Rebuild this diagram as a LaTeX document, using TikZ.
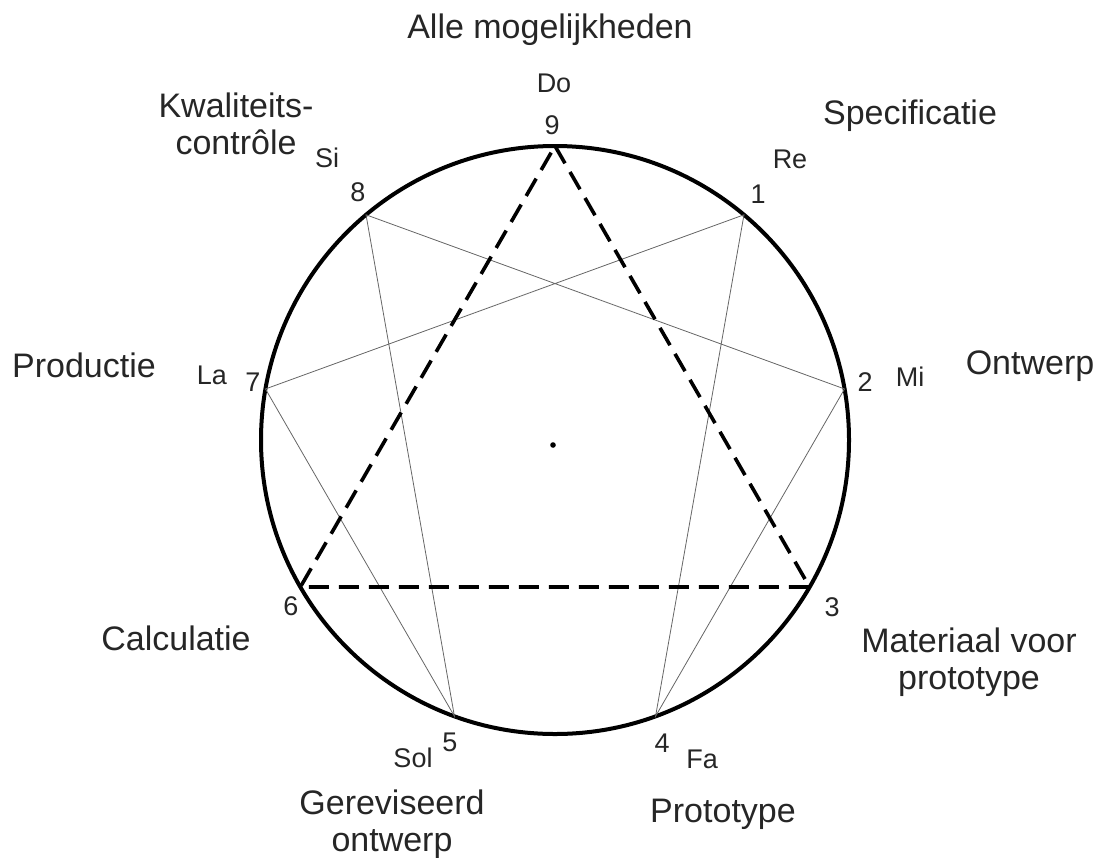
\documentclass[tikz,border=0pt]{standalone}
\usepackage{fontspec}
\setmainfont{Liberation Sans}
\begin{document}
\begin{tikzpicture}[x=1pt,y=-1pt,
  big/.style={font=\fontsize{34}{37}\selectfont, text=black!85, align=center, inner sep=0pt},
  small/.style={font=\fontsize{27}{30}\selectfont, text=black!85, inner sep=0pt},
  chord/.style={draw=black!60, line width=0.8pt},
  tri/.style={draw=black, line width=3.6pt, dash pattern=on 20pt off 10pt},
  ring/.style={draw=black, line width=4pt}]
\useasboundingbox (0,0) rectangle (1099,857);
\coordinate (c) at (555,440);
\foreach \k in {1,...,9}{
  \coordinate (p\k) at ({555+294*sin(40*\k)},{440-294*cos(40*\k)});
}
\draw[ring] (c) circle[radius=294];
\fill (553,445) circle[radius=2.8];
\draw[chord] (p1) -- (p4) -- (p2) -- (p8) -- (p5) -- (p7) -- cycle;
\draw[tri] (p9) -- (p3) -- (p6) -- cycle;
% numbers
\node[small] (n9) at (552,125) {9};
\node[small] (n1) at (758,194) {1};
\node[small] (n2) at (865,382) {2};
\node[small] (n3) at (832,607) {3};
\node[small] (n4) at (662,743) {4};
\node[small] (n5) at (450,742) {5};
\node[small] (n6) at (291,606) {6};
\node[small] (n7) at (253,382) {7};
\node[small] (n8) at (358,192) {8};
% solfege
\node[small] (do) at (554,83) {Do};
\node[small] (re) at (790,159) {Re};
\node[small] (mi) at (910,377) {Mi};
\node[small] (fa) at (702,759) {Fa};
\node[small] (sol) at (413,758) {Sol};
\node[small] (la) at (212,375) {La};
\node[small] (si) at (327,158) {Si};
% labels
\node[big] (l9) at (550,30) {Alle mogelijkheden};
\node[big] (l1) at (910,116) {Specificatie};
\node[big] (l2) at (1030,366) {Ontwerp};
\node[big] (l3) at (969,662) {Materiaal voor\\prototype};
\node[big] (l4) at (723,814) {Prototype};
\node[big] (l5) at (392,824) {Gereviseerd\\ontwerp};
\node[big] (l6) at (176,638) {Calculatie};
\node[big] (l7) at (84,365) {Productie};
\node[big] (l8) at (236,124) {Kwaliteits-\\contrôle};
\end{tikzpicture}
\end{document}
